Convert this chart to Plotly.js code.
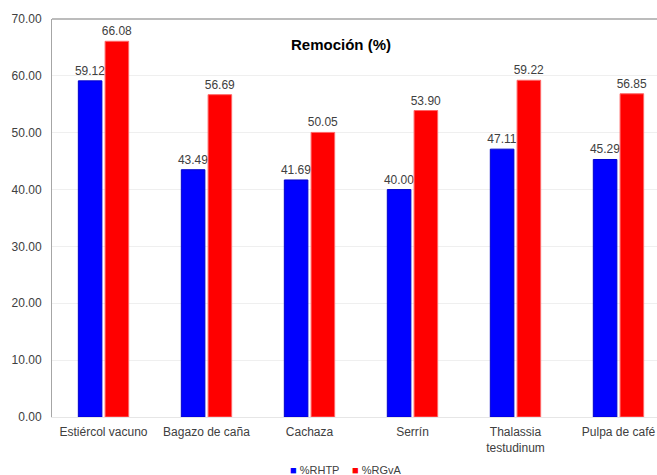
<!DOCTYPE html>
<html>
<head>
<meta charset="utf-8">
<script src="https://cdn.plot.ly/plotly-3.0.1.min.js"></script>
<style>html,body{margin:0;padding:0;background:#fff;}#chart{width:657px;height:475px;}</style>
</head>
<body>
<div id="chart"></div>
<script>
var categories = ["Estiércol vacuno", "Bagazo de caña", "Cachaza", "Serrín", "Thalassia<br>testudinum", "Pulpa de café"];
var rhtp = [59.12, 43.49, 41.69, 40.00, 47.11, 45.29];
var rgva = [66.08, 56.69, 50.05, 53.90, 59.22, 56.85];
var yTicks = [0, 10, 20, 30, 40, 50, 60, 70];
var seriesNames = ["%RHTP", "%RGvA"];
var seriesColors = ["#0000FF", "#FF0000"];

var labelFont = {family: "Liberation Sans, Arial, sans-serif", size: 12, color: "#404040"};

var traces = [
  {
    type: "bar", name: seriesNames[0], x: categories, y: rhtp,
    marker: {color: seriesColors[0], line: {color: "#0000CC", width: 1}},
    text: rhtp.map(function(v){return v.toFixed(2);}),
    textposition: "outside", textfont: labelFont, cliponaxis: false, constraintext: "none"
  },
  {
    type: "bar", name: seriesNames[1], x: categories, y: rgva,
    marker: {color: seriesColors[1], line: {color: "#FF6666", width: 1}},
    text: rgva.map(function(v){return v.toFixed(2);}),
    textposition: "outside", textfont: labelFont, cliponaxis: false, constraintext: "none"
  }
];

// compact legend (small square key close to its text), drawn as text annotations
var legendX = [0.390, 0.4926];
var legendAnn = seriesNames.map(function(n, i){
  return {xref: "paper", yref: "paper", x: legendX[i], y: -0.133, xanchor: "left", yanchor: "middle",
          showarrow: false, align: "left",
          text: '<span style="color:' + seriesColors[i] + '">■</span> ' + n,
          font: {size: 11, color: "#404040", family: "Liberation Sans, Arial, sans-serif"}};
});

var layout = {
  width: 657, height: 475,
  margin: {l: 52, r: 0, t: 19, b: 58, autoexpand: false},
  paper_bgcolor: "#ffffff", plot_bgcolor: "#ffffff",
  font: {family: "Liberation Sans, Arial, sans-serif", size: 12, color: "#404040"},
  title: {text: "<b>Remoción (%)</b>", x: 0.519, xanchor: "center", y: 0.905, yanchor: "middle",
          font: {size: 15, color: "#000000", family: "Liberation Sans, Arial, sans-serif"}},
  barmode: "group", bargap: 0.48, bargroupgap: 0.12,
  showlegend: false,
  xaxis: {
    type: "category", range: [-0.5, 5.374], fixedrange: true, automargin: false,
    showline: true, linecolor: "#e6e6e6", linewidth: 1, ticklabelstandoff: 4,
    ticks: "", showgrid: false, tickfont: {size: 12, color: "#404040"}
  },
  yaxis: {
    range: [0, 70], tickvals: yTicks, ticktext: yTicks.map(function(v){return v.toFixed(2);}),
    showline: true, linecolor: "#a6a6a6", linewidth: 1, automargin: false, ticklabelstandoff: 7,
    showgrid: true, gridcolor: "#efefef", zeroline: false, ticks: "",
    tickfont: {size: 12, color: "#404040"}
  },
  shapes: [{type: "line", xref: "paper", yref: "paper", x0: 0, x1: 1, y0: 1, y1: 1,
            line: {color: "#a6a6a6", width: 1.5}}],
  annotations: legendAnn
};

Plotly.newPlot("chart", traces, layout, {displayModeBar: false, staticPlot: true});
</script>
</body>
</html>
